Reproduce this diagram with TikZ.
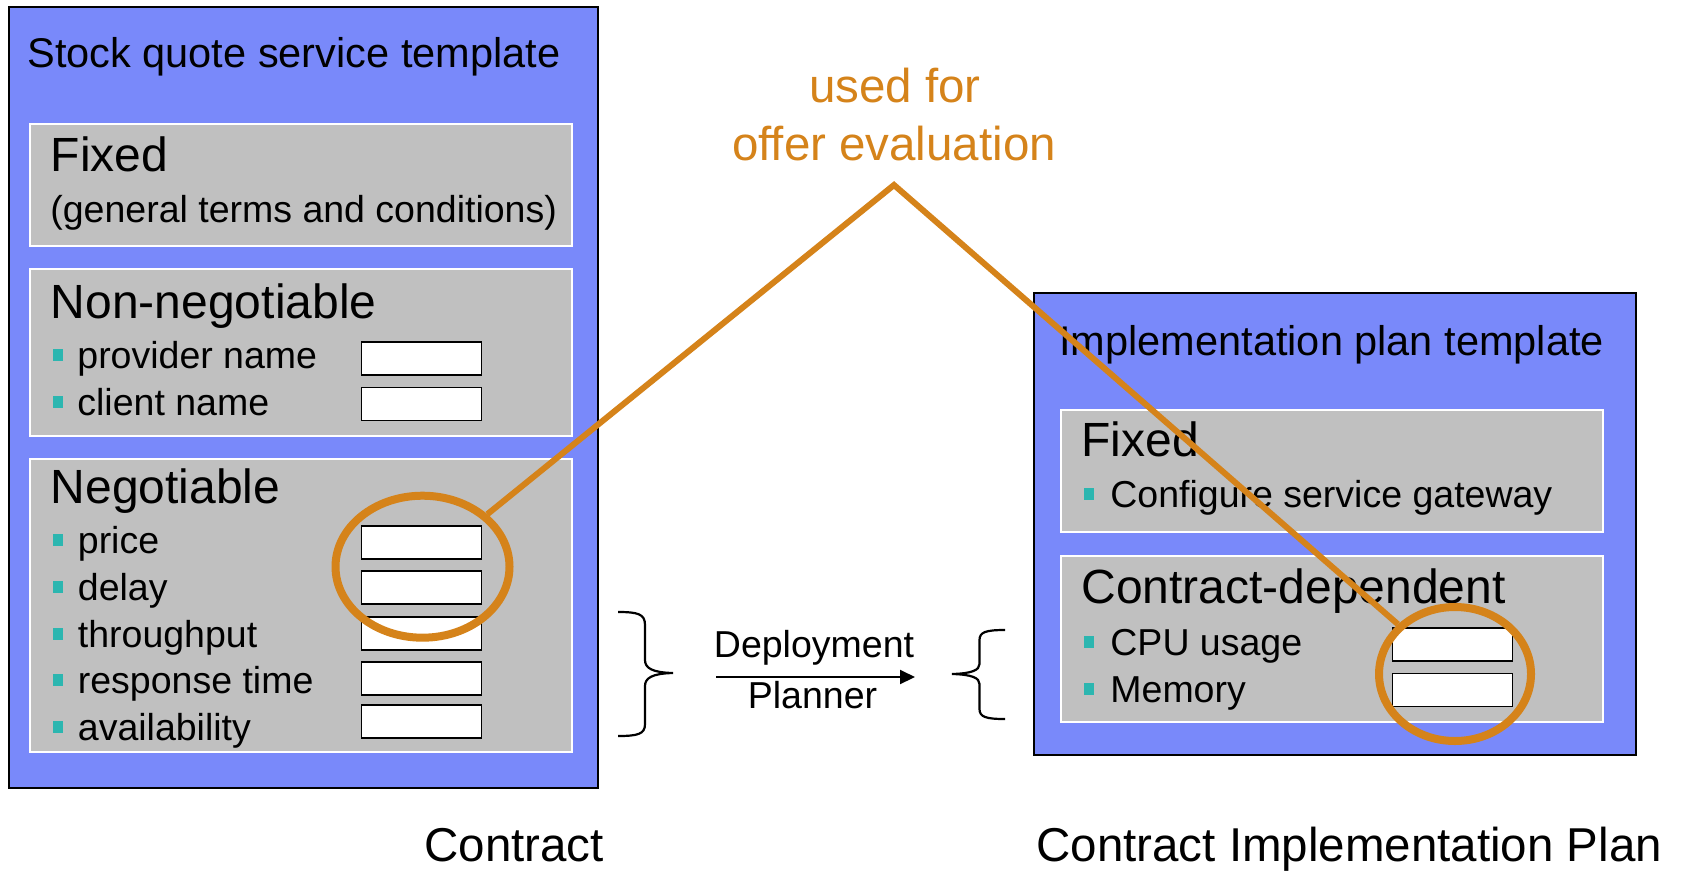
\documentclass[tikz,border=0pt]{standalone}
\usepackage{fontspec}
\setmainfont{Liberation Sans}
\usepackage{xcolor}
\usepackage{tikz}
\usetikzlibrary{arrows.meta}
\usetikzlibrary{shapes.geometric}
\definecolor{panelblue}{RGB}{121,137,250}
\definecolor{boxgray}{RGB}{192,192,192}
\definecolor{bullteal}{RGB}{44,182,176}
\definecolor{hlorange}{RGB}{213,131,26}
\newcommand{\titlesz}{\fontsize{20.75pt}{25pt}\selectfont}
\newcommand{\headsz}{\fontsize{24pt}{29pt}\selectfont}
\newcommand{\itemsz}{\fontsize{18.75pt}{23pt}\selectfont}
\newcommand{\bigsz}{\fontsize{23.75pt}{28pt}\selectfont}

\begin{document}
\begin{tikzpicture}[x=0.5pt, y=-0.5pt,
    panel/.style={draw=black, line width=1pt, fill=panelblue},
    sect/.style={draw=white, line width=0.8pt, fill=boxgray},
    txt/.style={inner sep=0pt, anchor=base west},
    bul/.style={fill=bullteal, inner sep=0pt, minimum width=5.3pt, minimum height=6pt},
    field/.style={draw=black, line width=0.8pt, fill=white, inner sep=0pt, minimum width=60pt, minimum height=16.5pt},
    ring/.style={ellipse, draw=hlorange, line width=4pt, inner sep=0pt},
    hl/.style={draw=hlorange, line width=3pt},
    brc/.style={line width=1.1pt}]
    \useasboundingbox (0,0) rectangle (1684,872);
    \fill[white] (0,0) rectangle (1684,872);
    \begin{scope}
      \draw[panel] (8.5,7.5) rectangle (597.5,788);
      \node[txt, font=\titlesz] (sqtitle) at (27,68) {Stock quote service template};
      \draw[sect] (30,124) rectangle (572,246);
      \draw[sect] (30,269) rectangle (572,436);
      \draw[sect] (30,459) rectangle (572,752);
      \node[txt, font=\headsz] (fixedL) at (50.5,171) {Fixed};
      \node[txt, font=\itemsz] (gtc) at (50,222) {(general terms and conditions)};
      \node[txt, font=\headsz] (nonneg) at (50.5,318) {Non-negotiable};
      \foreach \y/\f/\t [count=\i] in {368/358.5/provider name, 415/404/client name}{
        \node[bul] (nb\i) at (58,\y-13.5) {};
        \node[txt, font=\itemsz] (nt\i) at (77,\y) {\t};
        \node[field] (nf\i) at (421.5,\f) {};
      }
      \node[txt, font=\headsz] (neg) at (50.5,503) {Negotiable};
      \foreach \y/\f/\t [count=\i] in {553/542.5/price, 600/587.5/delay, 647/633.3/throughput,
                                      693/678.5/response time, 740/721.5/availability}{
        \node[bul] (gb\i) at (58,\y-13.5) {};
        \node[txt, font=\itemsz] (gt\i) at (77.5,\y) {\t};
        \node[field] (gf\i) at (421.5,\f) {};
      }
    \end{scope}
    \begin{scope}
      \draw[panel] (1034,293) rectangle (1636,755);
      \node[txt, font=\titlesz] (iptitle) at (1059,355) {Implementation plan template};
      \draw[sect] (1061,410) rectangle (1603,532);
      \draw[sect] (1061,556) rectangle (1603,722);
      \node[txt, font=\headsz] (fixedR) at (1081,456) {Fixed};
      \node[bul] (cb0) at (1089,493.5) {};
      \node[txt, font=\itemsz] (csg) at (1110,507) {Configure service gateway};
      \node[txt, font=\headsz] (cdep) at (1081,603) {Contract-dependent};
      \foreach \y/\f/\t [count=\i] in {655/644.7/CPU usage, 702/690/Memory}{
        \node[bul] (cb\i) at (1089,\y-13.5) {};
        \node[txt, font=\itemsz] (ct\i) at (1110,\y) {\t};
        \node[field] (cf\i) at (1452.5,\f) {};
      }
    \end{scope}
    % deployment planner
    \draw[brc] (618,612) .. controls (638,612) and (645,614) .. (645,625) -- (645,660)
      .. controls (645,668) and (652,672.5) .. (673,673)
      .. controls (652,673.5) and (645,678) .. (645,686) -- (645,724)
      .. controls (645,734) and (638,736) .. (618,736);
    \draw[brc] (1005,630) .. controls (986,630) and (979.5,632) .. (979.5,640) -- (979.5,664)
      .. controls (979.5,670) and (972,673.5) .. (952,674)
      .. controls (972,674.5) and (979.5,678) .. (979.5,684) -- (979.5,709)
      .. controls (979.5,717) and (986,719) .. (1005,719);
    \coordinate (dpin) at (716,677);
    \coordinate (dpout) at (915,677);
    \draw[line width=1pt, -{Triangle[length=7.5pt, width=7pt]}] (dpin) -- (dpout);
    \node[anchor=base, inner sep=0pt, font=\itemsz] (dplan1) at (814,657) {Deployment};
    \node[anchor=base, inner sep=0pt, font=\itemsz] (dplan2) at (812.5,708) {Planner};
    \node[txt, font=\bigsz] (contract) at (424,861) {Contract};
    \node[txt, font=\bigsz] (cip) at (1036,861) {Contract Implementation Plan};
    % offer evaluation
    \node[anchor=base, inner sep=0pt, font=\bigsz, text=hlorange] (usedfor) at (895,103) {used for};
    \node[anchor=base, inner sep=0pt, font=\bigsz, text=hlorange] (offereval) at (894,160) {offer evaluation};
    \node[ring, minimum width=87pt, minimum height=71pt] (lring) at (422.5,566.7) {};
    \node[ring, minimum width=76pt, minimum height=67pt] (rring) at (1455,674) {};
    \coordinate (apex) at (894,185);
    \draw[hl] (lring) -- (apex) -- (rring);
\end{tikzpicture}
\end{document}
